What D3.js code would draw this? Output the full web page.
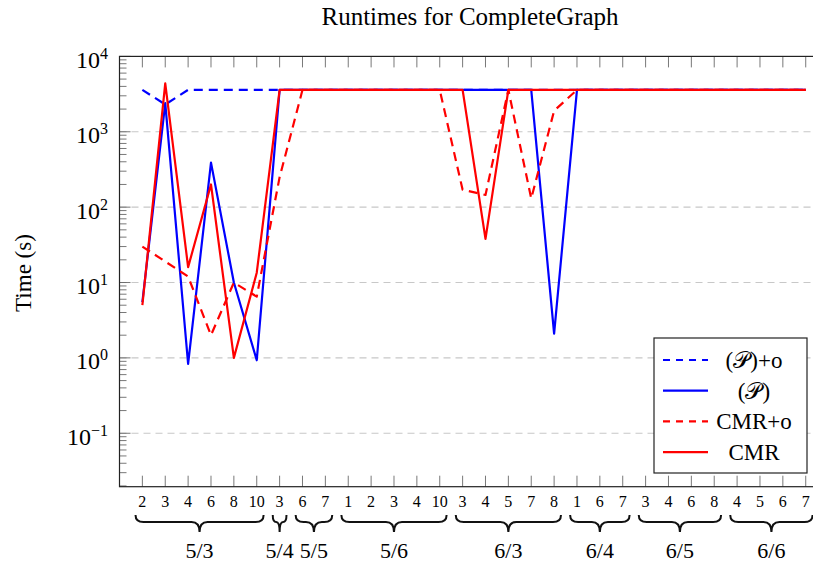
<!DOCTYPE html>
<html>
<head>
<meta charset="utf-8">
<script src="https://cdn.jsdelivr.net/npm/d3@7"></script>
<style>
  body { margin: 0; background: #fff; }
  svg { display: block; font-family: "Liberation Serif", "DejaVu Serif", serif; }
</style>
</head>
<body>
<svg id="chart" width="813" height="564"></svg>
<script>
// Runtimes for CompleteGraph — log scale, 4 series

const groups = ["5/3", "5/4", "5/5", "5/6", "6/3", "6/4", "6/5", "6/6"];
const groupSizes = [6, 1, 2, 5, 5, 3, 4, 4];
const tickLabels = [
    "2", "3", "4", "6", "8", "10",
    "3",
    "6", "7",
    "1", "2", "3", "4", "10",
    "3", "4", "5", "7", "8",
    "1", "6", "7",
    "3", "4", "6", "8",
    "4", "5", "6", "7",
];

const pOpt = [3600, 2300, 3600, 3600, 3600, 3600, 3600, 3600, 3600, 3600,
    3600, 3600, 3600, 3600, 3600, 3600, 3600, 3600, 3600, 3600,
    3600, 3600, 3600, 3600, 3600, 3600, 3600, 3600, 3600, 3600];
const p = [5.5, 2400, 0.83, 390, 10, 0.93, 3600, 3600, 3600, 3600,
    3600, 3600, 3600, 3600, 3600, 3600, 3600, 3600, 2.1, 3600,
    3600, 3600, 3600, 3600, 3600, 3600, 3600, 3600, 3600, 3600];
const cmrOpt = [30, 19, 12, 2.0, 10, 6.5, 250, 3600, 3600, 3600,
    3600, 3600, 3600, 3600, 170, 145, 3600, 130, 1900, 3600,
    3600, 3600, 3600, 3600, 3600, 3600, 3600, 3600, 3600, 3600];
const cmr = [5, 4400, 16, 200, 1.0, 13.5, 3600, 3600, 3600, 3600,
    3600, 3600, 3600, 3600, 3600, 38, 3600, 3600, 3600, 3600,
    3600, 3600, 3600, 3600, 3600, 3600, 3600, 3600, 3600, 3600];

const yExponents = [-1, 0, 1, 2, 3, 4];

const series = [
    { name: "(𝒫)+o", values: pOpt, color: "#0000ff", dash: "9,6" },
    { name: "(𝒫)", values: p, color: "#0000ff", dash: null },
    { name: "CMR+o", values: cmrOpt, color: "#ff0000", dash: "9,6" },
    { name: "CMR", values: cmr, color: "#ff0000", dash: null },
];

// ---- layout ----

const plotL = 119.5, plotR = 828.6, plotT = 56.4, plotB = 486.7;

const svg = d3.select("#chart");

const x = d3.scaleLinear().domain([-1, tickLabels.length]).range([plotL, plotR]);
const y = d3.scaleLog().domain([Math.pow(10, -1.709), 1e4]).range([plotB, plotT]);

// grid
svg.append("g").selectAll("line")
    .data(yExponents.filter(e => e < 4)).enter().append("line")
    .attr("x1", plotL).attr("x2", plotR)
    .attr("y1", e => y(Math.pow(10, e))).attr("y2", e => y(Math.pow(10, e)))
    .attr("stroke", "#c8c8c8").attr("stroke-width", 1.1)
    .attr("stroke-dasharray", "7,5");

// minor y ticks
const minor = [];
for (let d = -2; d < 4; d++) {
    for (let k = 2; k <= 9; k++) {
        const v = k * Math.pow(10, d);
        if (v > y.domain()[0] && v < 1e4) minor.push(v);
    }
}
svg.append("g").selectAll("line")
    .data(minor).enter().append("line")
    .attr("x1", plotL).attr("x2", plotL + 7)
    .attr("y1", d => y(d)).attr("y2", d => y(d))
    .attr("stroke", "#555").attr("stroke-width", 0.8);

// major y ticks
svg.append("g").selectAll("line")
    .data(yExponents).enter().append("line")
    .attr("x1", plotL).attr("x2", plotL + 11)
    .attr("y1", e => y(Math.pow(10, e))).attr("y2", e => y(Math.pow(10, e)))
    .attr("stroke", "#555").attr("stroke-width", 0.8);

// x ticks (bottom and top)
const idx = d3.range(tickLabels.length);
svg.append("g").selectAll("line")
    .data(idx).enter().append("line")
    .attr("x1", d => x(d)).attr("x2", d => x(d))
    .attr("y1", plotB).attr("y2", plotB - 11)
    .attr("stroke", "#555").attr("stroke-width", 0.8);
svg.append("g").selectAll("line")
    .data(idx).enter().append("line")
    .attr("x1", d => x(d)).attr("x2", d => x(d))
    .attr("y1", plotT).attr("y2", plotT + 11)
    .attr("stroke", "#555").attr("stroke-width", 0.8);

// series lines
const line = d3.line().x((d, i) => x(i)).y(d => y(d));
series.forEach(s => {
    svg.append("path")
        .datum(s.values)
        .attr("d", line)
        .attr("fill", "none")
        .attr("stroke", s.color)
        .attr("stroke-width", 2.2)
        .attr("stroke-linejoin", "round")
        .attr("stroke-dasharray", s.dash);
});

// frame
svg.append("rect")
    .attr("x", plotL).attr("y", plotT)
    .attr("width", plotR - plotL).attr("height", plotB - plotT)
    .attr("fill", "none").attr("stroke", "#222").attr("stroke-width", 1.2);

// y tick labels
const yLab = svg.append("g").selectAll("text")
    .data(yExponents).enter().append("text")
    .attr("x", 108)
    .attr("y", e => y(Math.pow(10, e)) + 11.5)
    .attr("text-anchor", "end")
    .attr("font-size", 24);
yLab.append("tspan").text("10");
yLab.append("tspan")
    .attr("dy", -9)
    .attr("font-size", 16)
    .text(e => String(e).replace("-", "−"));

// x tick labels
svg.append("g").selectAll("text")
    .data(idx).enter().append("text")
    .attr("x", d => x(d))
    .attr("y", 506.7)
    .attr("text-anchor", "middle")
    .attr("font-size", 16)
    .text(d => tickLabels[d]);

// group braces
let start = 0;
const braceTop = 515, braceMid = 522, braceTip = 532;
groups.forEach((g, gi) => {
    const end = start + groupSizes[gi] - 1;
    const x0 = x(start - 0.3), x1 = x(end + 0.3);
    const xm = (x0 + x1) / 2;
    const r = Math.min(8, (x1 - x0) / 4);
    const path = d3.path();
    path.moveTo(x0, braceTop);
    path.quadraticCurveTo(x0, braceMid, x0 + r, braceMid);
    path.lineTo(xm - r, braceMid);
    path.quadraticCurveTo(xm, braceMid, xm, braceTip);
    path.quadraticCurveTo(xm, braceMid, xm + r, braceMid);
    path.lineTo(x1 - r, braceMid);
    path.quadraticCurveTo(x1, braceMid, x1, braceTop);
    svg.append("path")
        .attr("d", path.toString())
        .attr("fill", "none").attr("stroke", "#111").attr("stroke-width", 2);
    svg.append("text")
        .attr("x", xm).attr("y", 558)
        .attr("text-anchor", "middle")
        .attr("font-size", 22)
        .text(g);
    start = end + 1;
});

// title + axis label
svg.append("text")
    .attr("x", (plotL + plotR) / 2 - 4).attr("y", 25)
    .attr("text-anchor", "middle").attr("font-size", 25)
    .text("Runtimes for CompleteGraph");

svg.append("text")
    .attr("transform", "translate(31,273) rotate(-90)")
    .attr("text-anchor", "middle").attr("font-size", 23)
    .text("Time (s)");

// legend
const lg = svg.append("g");
lg.append("rect")
    .attr("x", 654).attr("y", 338).attr("width", 153).attr("height", 135)
    .attr("fill", "#fff").attr("stroke", "#222").attr("stroke-width", 1.2);
series.forEach((s, i) => {
    const cy = 360 + i * 30.7;
    lg.append("line")
        .attr("x1", 663).attr("x2", 708)
        .attr("y1", cy).attr("y2", cy)
        .attr("stroke", s.color).attr("stroke-width", 2.2)
        .attr("stroke-dasharray", s.dash ? "7,6" : null);
    lg.append("text")
        .attr("x", 754).attr("y", cy + 8)
        .attr("text-anchor", "middle").attr("font-size", 23)
        .text(s.name);
});
</script>
</body>
</html>
